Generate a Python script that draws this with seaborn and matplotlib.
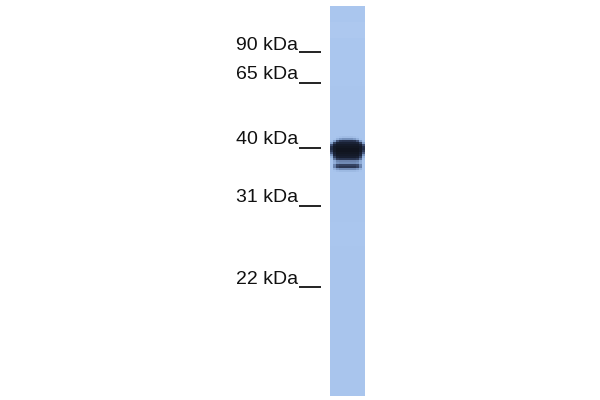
import numpy as np
import seaborn as sns
from matplotlib import pyplot as plt
from matplotlib.colors import LinearSegmentedColormap

# ladder
marker_labels = ['90 kDa', '65 kDa', '40 kDa', '31 kDa', '22 kDa']
marker_text_y = [49.5, 79, 144.5, 201.5, 283.5]
marker_line_y = [52, 83, 148, 206, 287]

# lane darkness, 2 px rows
lane_upper = [0.06, 0.05, 0.06, 0.06, 0.06, 0.07, 0.07, 0.07]
lane_lower = [0.07, 0.07, 0.06, 0.07, 0.07, 0.07, 0.07, 0.07, 0.07, 0.07]
band_rows = [
    [.07, .07, .07, .07, .07, .07, .07, .07, .07, .07, .07, .07],
    [.07, .07, .08, .10, .12, .12, .12, .12, .10, .08, .07, .07],
    [.07, .08, .18, .30, .35, .35, .35, .35, .30, .18, .08, .07],
    [.10, .30, .65, .78, .80, .80, .80, .80, .78, .65, .30, .10],
    [.28, .72, .88, .90, .90, .90, .90, .90, .90, .88, .72, .28],
    [.65, .90, .95, .95, .95, .95, .95, .95, .95, .95, .90, .65],
    [.80, .95, .98, .98, .98, .98, .98, .98, .98, .98, .95, .80],
    [.82, .95, 1.0, 1.0, 1.0, 1.0, 1.0, 1.0, 1.0, 1.0, .95, .82],
    [.75, .95, 1.0, 1.0, 1.0, 1.0, 1.0, 1.0, 1.0, 1.0, .95, .75],
    [.60, .90, .98, .98, .98, .98, .98, .98, .98, .98, .90, .60],
    [.35, .85, .95, .95, .95, .95, .95, .95, .95, .95, .85, .35],
    [.18, .72, .90, .92, .92, .92, .92, .92, .92, .90, .72, .18],
    [.10, .50, .75, .78, .78, .78, .78, .78, .78, .75, .50, .10],
    [.07, .22, .40, .42, .42, .42, .42, .42, .42, .40, .22, .07],
    [.07, .20, .35, .38, .38, .38, .38, .38, .38, .35, .20, .07],
    [.07, .40, .68, .72, .72, .72, .72, .72, .72, .68, .40, .07],
    [.07, .42, .72, .78, .78, .78, .78, .78, .78, .72, .42, .07],
    [.07, .18, .32, .38, .38, .38, .38, .38, .38, .32, .18, .07],
    [.07, .08, .11, .13, .13, .13, .13, .13, .13, .11, .08, .07],
    [.07, .07, .07, .07, .07, .07, .07, .07, .07, .07, .07, .07],
]

upper = np.repeat(lane_upper, 8)
lower = np.repeat(lane_lower, [12, 12, 12, 12, 12, 12, 12, 12, 12, 3])
lane = np.vstack([
    np.tile(upper[:, None], (1, 12)),
    np.array(band_rows),
    np.tile(lower[:, None], (1, 12)),
])

blot = LinearSegmentedColormap.from_list('blot', [
    (0.0, '#b6cff3'), (0.07, '#a8c4ed'), (0.3, '#7f9cc8'),
    (0.6, '#4a5c82'), (0.85, '#1e2840'), (1.0, '#10141f'),
])

plt.rcParams['font.family'] = ['Liberation Sans', 'DejaVu Sans']
fig = plt.figure(figsize=(6, 4), dpi=100)

ax = fig.add_axes([0, 0, 1, 1])
ax.set_xlim(0, 600)
ax.set_ylim(400, 0)
ax.axis('off')

for label, ty, ly in zip(marker_labels, marker_text_y, marker_line_y):
    ax.text(298, ty, label, ha='right', va='baseline', fontsize=14, color='#111111')
    ax.plot([299, 321], [ly, ly], color='#111111', lw=1.3, solid_capstyle='butt')

# lane sits at x 330-365, y 6-396
ax_lane = fig.add_axes([330 / 600, 1 - 396 / 400, 35 / 600, 390 / 400])
sns.heatmap(lane, cmap=blot, vmin=0, vmax=1, cbar=False, xticklabels=False,
            yticklabels=False, ax=ax_lane, rasterized=True)

fig.savefig('out.png', dpi=100)
